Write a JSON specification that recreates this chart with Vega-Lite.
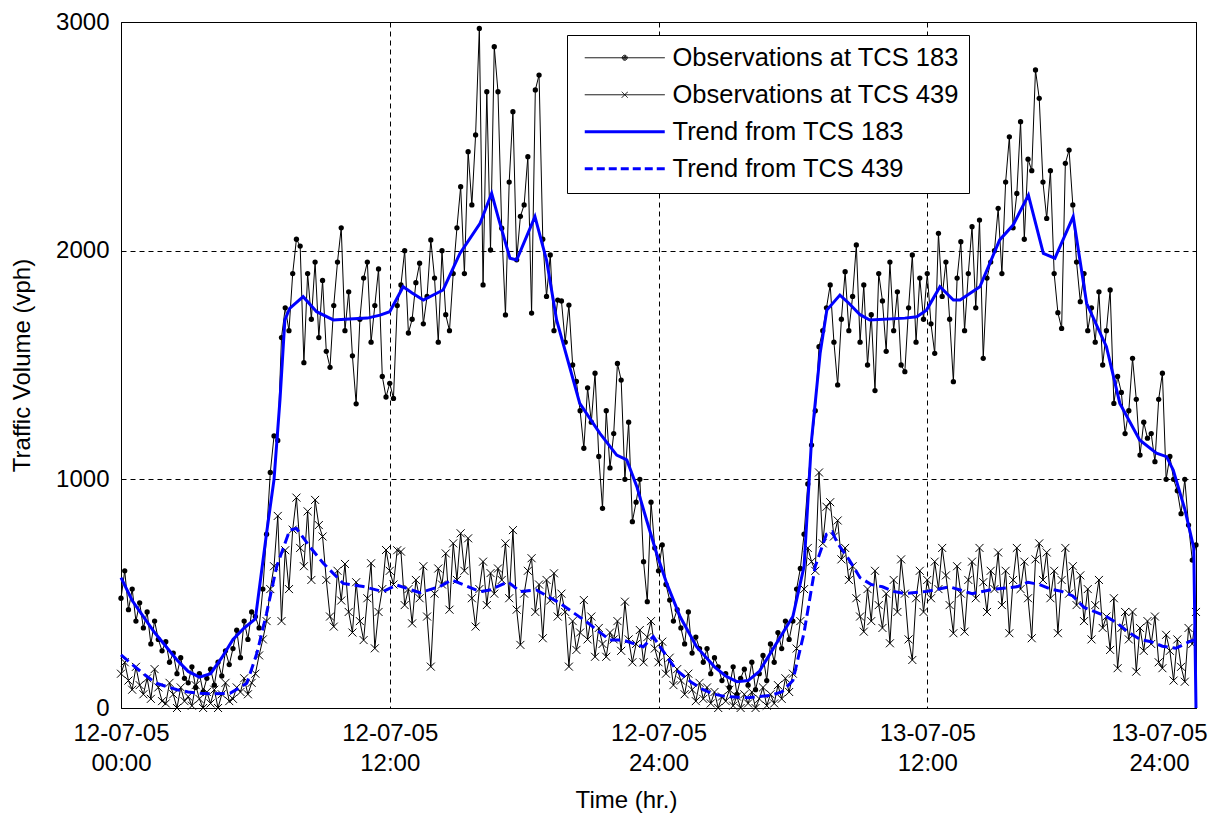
{
"$schema": "https://vega.github.io/schema/vega-lite/v6.json",
"width": 1075, "height": 686,
"autosize": "none",
"padding": {"left": 121, "top": 22, "right": 19, "bottom": 119},
"background": "white",
"config": {
  "view": {"stroke": "black", "strokeWidth": 1},
  "font": "Liberation Sans",
  "axis": {"labelFont": "Liberation Sans", "labelFontSize": 24, "labelColor": "black", "titleFont": "Liberation Sans", "titleFontSize": 24, "titleFontWeight": "normal", "titleColor": "black", "domain": false, "ticks": false, "grid": true, "gridColor": "black", "gridDash": [5, 4], "gridOpacity": 1, "gridWidth": 1},
  "legend": {"orient": "none", "legendX": 446, "legendY": 13, "direction": "vertical", "fillColor": "white", "strokeColor": "black", "padding": 10, "cornerRadius": 0, "labelFont": "Liberation Sans", "labelFontSize": 25.5, "labelColor": "black", "labelLimit": 500, "symbolOffset": 35, "labelOffset": 35, "rowPadding": 10, "symbolSize": 400, "symbolOpacity": 1}
},
"datasets": {
"obs": [
{"t":0,"a":480,"b":150},{"t":10,"a":600,"b":200},{"t":20,"a":430,"b":120},{"t":30,"a":520,"b":80},{"t":40,"a":380,"b":180},{"t":50,"a":460,"b":100},
{"t":60,"a":350,"b":60},{"t":70,"a":420,"b":130},{"t":80,"a":280,"b":40},{"t":90,"a":380,"b":170},{"t":100,"a":300,"b":90},{"t":110,"a":250,"b":30},
{"t":120,"a":290,"b":20},{"t":130,"a":200,"b":110},{"t":140,"a":240,"b":60},{"t":150,"a":150,"b":0},{"t":160,"a":220,"b":90},{"t":170,"a":130,"b":30},
{"t":180,"a":110,"b":50},{"t":190,"a":180,"b":10},{"t":200,"a":90,"b":100},{"t":210,"a":150,"b":40},{"t":220,"a":70,"b":0},{"t":230,"a":130,"b":70},
{"t":240,"a":170,"b":20},{"t":250,"a":100,"b":80},{"t":260,"a":200,"b":0},{"t":270,"a":140,"b":60},{"t":280,"a":250,"b":110},{"t":290,"a":190,"b":30},
{"t":300,"a":260,"b":40},{"t":310,"a":340,"b":90},{"t":320,"a":220,"b":70},{"t":330,"a":380,"b":130},{"t":340,"a":300,"b":60},{"t":350,"a":420,"b":110},
{"t":360,"a":400,"b":150},{"t":370,"a":350,"b":230},{"t":380,"a":520,"b":300},{"t":390,"a":760,"b":380},{"t":400,"a":1030,"b":520},{"t":410,"a":1190,"b":620},
{"t":420,"a":1170,"b":840},{"t":430,"a":1620,"b":380},{"t":440,"a":1750,"b":690},{"t":450,"a":1650,"b":520},{"t":460,"a":1900,"b":780},{"t":470,"a":2050,"b":920},
{"t":480,"a":2020,"b":700},{"t":490,"a":1510,"b":620},{"t":500,"a":1900,"b":860},{"t":510,"a":1700,"b":560},{"t":520,"a":1950,"b":910},{"t":530,"a":1620,"b":800},
{"t":540,"a":1870,"b":750},{"t":550,"a":1560,"b":560},{"t":560,"a":1490,"b":400},{"t":570,"a":1760,"b":356},{"t":580,"a":1950,"b":600},{"t":590,"a":2100,"b":470},
{"t":600,"a":1650,"b":630},{"t":610,"a":1820,"b":420},{"t":620,"a":1540,"b":330},{"t":630,"a":1330,"b":550},{"t":640,"a":1700,"b":380},{"t":650,"a":1880,"b":297},
{"t":660,"a":1950,"b":480},{"t":670,"a":1600,"b":633},{"t":680,"a":1760,"b":261},{"t":690,"a":1920,"b":420},{"t":700,"a":1450,"b":520},{"t":710,"a":1360,"b":691},
{"t":720,"a":1420,"b":600},{"t":730,"a":1354,"b":540},{"t":740,"a":1760,"b":690},{"t":750,"a":1850,"b":684},{"t":760,"a":2000,"b":450},{"t":770,"a":1640,"b":520},
{"t":780,"a":1700,"b":370},{"t":790,"a":1860,"b":560},{"t":800,"a":1945,"b":480},{"t":810,"a":1680,"b":620},{"t":820,"a":1800,"b":400},{"t":830,"a":2047,"b":181},
{"t":840,"a":1880,"b":500},{"t":850,"a":1600,"b":610},{"t":860,"a":2000,"b":540},{"t":870,"a":1720,"b":676},{"t":880,"a":1650,"b":430},{"t":890,"a":1900,"b":720},
{"t":900,"a":2100,"b":560},{"t":910,"a":2280,"b":764},{"t":920,"a":1900,"b":600},{"t":930,"a":2433,"b":742},{"t":940,"a":2200,"b":480},{"t":950,"a":2506,"b":356},
{"t":960,"a":2972,"b":520},{"t":970,"a":1850,"b":640},{"t":980,"a":2695,"b":450},{"t":990,"a":2003,"b":590},{"t":1000,"a":2892,"b":500},{"t":1010,"a":2695,"b":610},
{"t":1020,"a":2098,"b":560},{"t":1030,"a":1719,"b":720},{"t":1040,"a":2300,"b":480},{"t":1050,"a":2608,"b":778},{"t":1060,"a":1960,"b":430},{"t":1070,"a":2150,"b":276},
{"t":1080,"a":2200,"b":500},{"t":1090,"a":2411,"b":600},{"t":1100,"a":1727,"b":655},{"t":1110,"a":2703,"b":420},{"t":1120,"a":2768,"b":540},{"t":1130,"a":2050,"b":305},
{"t":1140,"a":1800,"b":560},{"t":1150,"a":1981,"b":470},{"t":1160,"a":1650,"b":589},{"t":1170,"a":1784,"b":400},{"t":1180,"a":1780,"b":500},{"t":1190,"a":1600,"b":420},
{"t":1200,"a":1762,"b":181},{"t":1210,"a":1500,"b":380},{"t":1220,"a":1428,"b":254},{"t":1230,"a":1300,"b":330},{"t":1240,"a":1136,"b":472},{"t":1250,"a":1400,"b":300},
{"t":1260,"a":1250,"b":400},{"t":1270,"a":1464,"b":224},{"t":1280,"a":1100,"b":350},{"t":1290,"a":873,"b":280},{"t":1300,"a":1300,"b":224},{"t":1310,"a":1050,"b":330},
{"t":1320,"a":1200,"b":300},{"t":1330,"a":1507,"b":380},{"t":1340,"a":1434,"b":250},{"t":1350,"a":1000,"b":465},{"t":1360,"a":1250,"b":300},{"t":1370,"a":815,"b":200},
{"t":1380,"a":900,"b":280},{"t":1390,"a":1000,"b":341},{"t":1400,"a":640,"b":200},{"t":1410,"a":465,"b":310},{"t":1420,"a":900,"b":380},{"t":1430,"a":700,"b":260},
{"t":1440,"a":600,"b":200},{"t":1450,"a":713,"b":290},{"t":1460,"a":540,"b":150},{"t":1470,"a":472,"b":220},{"t":1480,"a":380,"b":100},{"t":1490,"a":430,"b":170},
{"t":1500,"a":350,"b":120},{"t":1510,"a":280,"b":60},{"t":1520,"a":420,"b":150},{"t":1530,"a":240,"b":80},{"t":1540,"a":310,"b":30},{"t":1550,"a":260,"b":110},
{"t":1560,"a":200,"b":40},{"t":1570,"a":260,"b":90},{"t":1580,"a":150,"b":20},{"t":1590,"a":220,"b":70},{"t":1600,"a":180,"b":0},{"t":1610,"a":120,"b":50},
{"t":1620,"a":150,"b":30},{"t":1630,"a":90,"b":80},{"t":1640,"a":180,"b":10},{"t":1650,"a":60,"b":50},{"t":1660,"a":130,"b":0},{"t":1670,"a":170,"b":60},
{"t":1680,"a":100,"b":20},{"t":1690,"a":200,"b":70},{"t":1700,"a":80,"b":0},{"t":1710,"a":150,"b":40},{"t":1720,"a":230,"b":90},{"t":1730,"a":120,"b":10},
{"t":1740,"a":280,"b":60},{"t":1750,"a":200,"b":20},{"t":1760,"a":330,"b":100},{"t":1770,"a":260,"b":40},{"t":1780,"a":380,"b":130},{"t":1790,"a":300,"b":70},
{"t":1800,"a":380,"b":150},{"t":1810,"a":520,"b":260},{"t":1820,"a":610,"b":380},{"t":1830,"a":760,"b":520},{"t":1840,"a":980,"b":700},{"t":1850,"a":1150,"b":640},
{"t":1860,"a":1300,"b":600},{"t":1870,"a":1580,"b":1030},{"t":1880,"a":1650,"b":720},{"t":1890,"a":1750,"b":880},{"t":1900,"a":1850,"b":900},{"t":1910,"a":1600,"b":750},
{"t":1920,"a":1413,"b":820},{"t":1930,"a":1700,"b":650},{"t":1940,"a":1908,"b":700},{"t":1950,"a":1650,"b":560},{"t":1960,"a":1800,"b":620},{"t":1970,"a":2025,"b":480},
{"t":1980,"a":1600,"b":400},{"t":1990,"a":1850,"b":334},{"t":2000,"a":1500,"b":520},{"t":2010,"a":1720,"b":380},{"t":2020,"a":1388,"b":600},{"t":2030,"a":1900,"b":450},
{"t":2040,"a":1780,"b":350},{"t":2050,"a":1560,"b":500},{"t":2060,"a":1950,"b":283},{"t":2070,"a":1650,"b":560},{"t":2080,"a":1820,"b":420},{"t":2090,"a":1500,"b":650},
{"t":2100,"a":1471,"b":500},{"t":2110,"a":1750,"b":300},{"t":2120,"a":1981,"b":210},{"t":2130,"a":1600,"b":480},{"t":2140,"a":1880,"b":600},{"t":2150,"a":1700,"b":420},
{"t":2160,"a":1900,"b":560},{"t":2170,"a":1680,"b":480},{"t":2180,"a":1551,"b":640},{"t":2190,"a":2076,"b":520},{"t":2200,"a":1800,"b":700},{"t":2210,"a":1950,"b":580},
{"t":2220,"a":1700,"b":450},{"t":2230,"a":1427,"b":327},{"t":2240,"a":1880,"b":620},{"t":2250,"a":2039,"b":500},{"t":2260,"a":1650,"b":334},{"t":2270,"a":1900,"b":560},
{"t":2280,"a":2105,"b":640},{"t":2290,"a":1750,"b":480},{"t":2300,"a":2134,"b":700},{"t":2310,"a":1529,"b":550},{"t":2320,"a":1880,"b":420},{"t":2330,"a":1950,"b":600},
{"t":2340,"a":2000,"b":520},{"t":2350,"a":2185,"b":680},{"t":2360,"a":1900,"b":450},{"t":2370,"a":2300,"b":600},{"t":2380,"a":2498,"b":327},{"t":2390,"a":2100,"b":560},
{"t":2400,"a":2250,"b":700},{"t":2410,"a":2564,"b":520},{"t":2420,"a":2050,"b":640},{"t":2430,"a":2400,"b":480},{"t":2440,"a":2350,"b":305},{"t":2450,"a":2790,"b":650},
{"t":2460,"a":2666,"b":720},{"t":2470,"a":2300,"b":560},{"t":2480,"a":2141,"b":680},{"t":2490,"a":2350,"b":480},{"t":2500,"a":1900,"b":600},{"t":2510,"a":1729,"b":327},
{"t":2520,"a":1660,"b":560},{"t":2530,"a":2382,"b":700},{"t":2540,"a":2440,"b":500},{"t":2550,"a":2200,"b":620},{"t":2560,"a":1950,"b":450},{"t":2570,"a":1777,"b":580},
{"t":2580,"a":1900,"b":380},{"t":2590,"a":1650,"b":520},{"t":2600,"a":1750,"b":300},{"t":2610,"a":1600,"b":450},{"t":2620,"a":1820,"b":560},{"t":2630,"a":1500,"b":350},
{"t":2640,"a":1650,"b":400},{"t":2650,"a":1828,"b":254},{"t":2660,"a":1332,"b":480},{"t":2670,"a":1450,"b":174},{"t":2680,"a":1380,"b":350},{"t":2690,"a":1200,"b":420},
{"t":2700,"a":1300,"b":300},{"t":2710,"a":1529,"b":420},{"t":2720,"a":1350,"b":159},{"t":2730,"a":1106,"b":350},{"t":2740,"a":1250,"b":250},{"t":2750,"a":1180,"b":380},
{"t":2760,"a":1200,"b":280},{"t":2770,"a":1077,"b":400},{"t":2780,"a":1350,"b":200},{"t":2790,"a":1464,"b":174},{"t":2800,"a":1000,"b":320},{"t":2810,"a":1100,"b":250},
{"t":2820,"a":1000,"b":120},{"t":2830,"a":950,"b":300},{"t":2840,"a":850,"b":180},{"t":2850,"a":1000,"b":115},{"t":2860,"a":800,"b":350},{"t":2870,"a":647,"b":280},
{"t":2880,"a":713,"b":420}
],
"trendA": [
{"t":0,"v":570},{"t":30,"v":470},{"t":60,"v":400},{"t":90,"v":330},{"t":120,"v":270},{"t":150,"v":210},{"t":180,"v":160},{"t":210,"v":135},{"t":240,"v":150},{"t":270,"v":220},{"t":300,"v":300},{"t":330,"v":350},{"t":360,"v":390},{"t":390,"v":765},{"t":410,"v":1000},{"t":426,"v":1350},{"t":439,"v":1697},{"t":452,"v":1748},{"t":488,"v":1799},{"t":524,"v":1733},{"t":569,"v":1697},{"t":600,"v":1700},{"t":660,"v":1705},{"t":694,"v":1718},{"t":720,"v":1733},{"t":756,"v":1842},{"t":780,"v":1815},{"t":810,"v":1784},{"t":863,"v":1828},{"t":908,"v":1988},{"t":962,"v":2120},{"t":993,"v":2251},{"t":1010,"v":2149},{"t":1042,"v":1967},{"t":1060,"v":1959},{"t":1109,"v":2149},{"t":1140,"v":1959},{"t":1167,"v":1697},{"t":1229,"v":1332},{"t":1283,"v":1201},{"t":1328,"v":1106},{"t":1355,"v":1085},{"t":1382,"v":968},{"t":1408,"v":822},{"t":1435,"v":676},{"t":1462,"v":545},{"t":1498,"v":399},{"t":1542,"v":268},{"t":1590,"v":180},{"t":1620,"v":140},{"t":1650,"v":115},{"t":1680,"v":120},{"t":1710,"v":160},{"t":1740,"v":240},{"t":1770,"v":320},{"t":1800,"v":400},{"t":1830,"v":620},{"t":1850,"v":1172},{"t":1873,"v":1551},{"t":1891,"v":1740},{"t":1926,"v":1806},{"t":1950,"v":1770},{"t":1980,"v":1720},{"t":2006,"v":1697},{"t":2100,"v":1705},{"t":2132,"v":1711},{"t":2158,"v":1740},{"t":2194,"v":1842},{"t":2230,"v":1784},{"t":2248,"v":1784},{"t":2301,"v":1842},{"t":2354,"v":2047},{"t":2390,"v":2112},{"t":2431,"v":2243},{"t":2471,"v":1988},{"t":2502,"v":1967},{"t":2551,"v":2149},{"t":2587,"v":1770},{"t":2640,"v":1580},{"t":2676,"v":1332},{"t":2729,"v":1172},{"t":2774,"v":1114},{"t":2801,"v":1099},{"t":2819,"v":1041},{"t":2850,"v":870},{"t":2874,"v":700},{"t":2880,"v":0}
],
"trendB": [
{"t":0,"v":232},{"t":30,"v":190},{"t":60,"v":150},{"t":95,"v":108},{"t":120,"v":95},{"t":150,"v":80},{"t":180,"v":70},{"t":212,"v":64},{"t":240,"v":62},{"t":292,"v":64},{"t":337,"v":108},{"t":364,"v":239},{"t":390,"v":414},{"t":417,"v":618},{"t":452,"v":778},{"t":470,"v":785},{"t":506,"v":705},{"t":542,"v":633},{"t":595,"v":545},{"t":649,"v":531},{"t":702,"v":509},{"t":738,"v":538},{"t":801,"v":504},{"t":854,"v":531},{"t":886,"v":560},{"t":962,"v":509},{"t":988,"v":516},{"t":1037,"v":552},{"t":1069,"v":509},{"t":1113,"v":516},{"t":1176,"v":458},{"t":1247,"v":377},{"t":1310,"v":297},{"t":1345,"v":297},{"t":1399,"v":268},{"t":1426,"v":312},{"t":1444,"v":268},{"t":1488,"v":166},{"t":1530,"v":110},{"t":1560,"v":80},{"t":1590,"v":60},{"t":1620,"v":50},{"t":1680,"v":45},{"t":1740,"v":55},{"t":1770,"v":70},{"t":1800,"v":120},{"t":1830,"v":330},{"t":1860,"v":620},{"t":1890,"v":760},{"t":1905,"v":770},{"t":1920,"v":720},{"t":1950,"v":650},{"t":1980,"v":570},{"t":2010,"v":540},{"t":2040,"v":530},{"t":2070,"v":510},{"t":2100,"v":500},{"t":2160,"v":510},{"t":2220,"v":530},{"t":2280,"v":500},{"t":2340,"v":520},{"t":2400,"v":530},{"t":2430,"v":550},{"t":2460,"v":540},{"t":2490,"v":520},{"t":2520,"v":510},{"t":2550,"v":490},{"t":2580,"v":440},{"t":2610,"v":420},{"t":2640,"v":400},{"t":2670,"v":370},{"t":2700,"v":330},{"t":2730,"v":300},{"t":2760,"v":290},{"t":2790,"v":270},{"t":2826,"v":261},{"t":2862,"v":290},{"t":2880,"v":300}
],
"leg": [
{"series":"Observations at TCS 183"},{"series":"Observations at TCS 439"},{"series":"Trend from TCS 183"},{"series":"Trend from TCS 439"}
]
},
"layer": [
{"data": {"name": "obs"}, "mark": {"type": "line", "color": "black", "strokeWidth": 1},
 "encoding": {
  "x": {"field": "t", "type": "quantitative", "scale": {"domain": [0, 2880], "nice": false, "zero": false}, "title": "Time (hr.)",
        "axis": {"values": [0, 720, 1440, 2160, 2880], "labelExpr": "datum.value == 0 ? ['12-07-05','00:00'] : datum.value == 720 ? ['12-07-05','12:00'] : datum.value == 1440 ? ['12-07-05','24:00'] : datum.value == 2160 ? ['13-07-05','12:00'] : ['13-07-05','24:00']", "labelOverlap": false, "labelFlush": false, "labelBound": false, "labelPadding": 13, "labelLineHeight": 30, "labelBaseline": "top", "labelOffset": {"condition": {"test": "datum.value == 2880", "value": -37}, "value": 0}, "titleX": 505, "titleY": 80, "titleBaseline": "top", "titleAlign": "center"}},
  "y": {"field": "a", "type": "quantitative", "scale": {"domain": [0, 3000], "nice": false}, "title": "Traffic Volume (vph)",
        "axis": {"values": [0, 1000, 2000, 3000], "format": "d", "labelPadding": 12, "titleX": -99, "titleY": 343, "titleAngle": -90, "titleAlign": "center", "titleBaseline": "middle"}}
 }},
{"data": {"name": "obs"}, "mark": {"type": "point", "shape": "circle", "filled": true, "color": "black", "size": 28, "opacity": 1},
 "encoding": {
  "x": {"field": "t", "type": "quantitative", "scale": {"domain": [0, 2880], "nice": false}, "title": "Time (hr.)"},
  "y": {"field": "a", "type": "quantitative", "scale": {"domain": [0, 3000], "nice": false}, "title": "Traffic Volume (vph)"}
 }},
{"data": {"name": "obs"}, "mark": {"type": "line", "color": "black", "strokeWidth": 1},
 "encoding": {
  "x": {"field": "t", "type": "quantitative", "scale": {"domain": [0, 2880], "nice": false}, "title": "Time (hr.)"},
  "y": {"field": "b", "type": "quantitative", "scale": {"domain": [0, 3000], "nice": false}, "title": "Traffic Volume (vph)"}
 }},
{"data": {"name": "obs"}, "mark": {"type": "point", "shape": "M-1,-1L1,1M-1,1L1,-1", "filled": false, "color": "black", "strokeWidth": 1, "size": 64, "opacity": 1},
 "encoding": {
  "x": {"field": "t", "type": "quantitative", "scale": {"domain": [0, 2880], "nice": false}, "title": "Time (hr.)"},
  "y": {"field": "b", "type": "quantitative", "scale": {"domain": [0, 3000], "nice": false}, "title": "Traffic Volume (vph)"}
 }},
{"data": {"name": "trendA"}, "mark": {"type": "line", "color": "#0000ff", "strokeWidth": 3},
 "encoding": {
  "x": {"field": "t", "type": "quantitative", "scale": {"domain": [0, 2880], "nice": false}, "title": "Time (hr.)"},
  "y": {"field": "v", "type": "quantitative", "scale": {"domain": [0, 3000], "nice": false}, "title": "Traffic Volume (vph)"}
 }},
{"data": {"name": "trendB"}, "mark": {"type": "line", "color": "#0000ff", "strokeWidth": 3, "strokeDash": [10, 5]},
 "encoding": {
  "x": {"field": "t", "type": "quantitative", "scale": {"domain": [0, 2880], "nice": false}, "title": "Time (hr.)"},
  "y": {"field": "v", "type": "quantitative", "scale": {"domain": [0, 3000], "nice": false}, "title": "Traffic Volume (vph)"}
 }},
{"data": {"name": "leg"}, "mark": {"type": "point", "filled": false, "opacity": 0},
 "encoding": {
  "color": {"field": "series", "type": "nominal", "title": null, "legend": {"labelExpr": "datum.label + '\u00a0\u00a0'"}, "scale": {"domain": ["Observations at TCS 183", "Observations at TCS 439", "Trend from TCS 183", "Trend from TCS 439"], "range": ["black", "black", "#0000ff", "#0000ff"]}},
  "shape": {"field": "series", "type": "nominal", "title": null, "legend": {"labelExpr": "datum.label + '\u00a0\u00a0'"}, "scale": {"domain": ["Observations at TCS 183", "Observations at TCS 439", "Trend from TCS 183", "Trend from TCS 439"], "range": ["M-4,0H4M-0.25,0A0.25,0.25 0 1,0 0.25,0A0.25,0.25 0 1,0 -0.25,0M-0.15,0A0.15,0.15 0 1,0 0.15,0A0.15,0.15 0 1,0 -0.15,0M-0.05,0A0.05,0.05 0 1,0 0.05,0A0.05,0.05 0 1,0 -0.05,0", "M-4,0H4M-0.3,-0.3L0.3,0.3M-0.3,0.3L0.3,-0.3", "M-4,0H4", "M-4,0H4"]}},
  "strokeDash": {"field": "series", "type": "nominal", "title": null, "legend": {"labelExpr": "datum.label + '\u00a0\u00a0'"}, "scale": {"domain": ["Observations at TCS 183", "Observations at TCS 439", "Trend from TCS 183", "Trend from TCS 439"], "range": [[1, 0], [1, 0], [1, 0], [8, 4]]}},
  "strokeWidth": {"field": "series", "type": "nominal", "title": null, "legend": {"labelExpr": "datum.label + '\u00a0\u00a0'"}, "scale": {"type": "ordinal", "domain": ["Observations at TCS 183", "Observations at TCS 439", "Trend from TCS 183", "Trend from TCS 439"], "range": [1, 1, 3, 3]}}
 }}
]
}
